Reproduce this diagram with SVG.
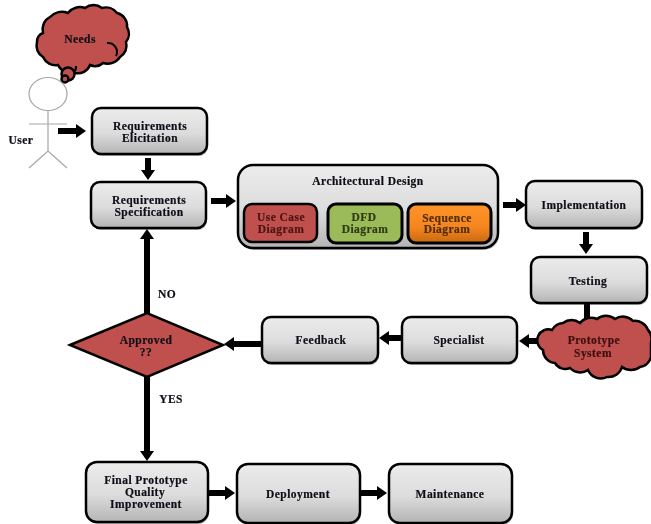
<svg xmlns="http://www.w3.org/2000/svg" width="651" height="524" viewBox="0 0 651 524">
<style>
.box{fill:url(#g);stroke:#000;stroke-width:2.5}
.sh{fill:#000;opacity:.3}
text{font-family:"Liberation Serif","Times New Roman",serif;font-weight:bold;font-size:11.500px;text-anchor:middle;fill:#0e0e18;stroke:#0e0e18;stroke-width:.2;letter-spacing:.45px;filter:url(#soft)}
.red{fill:#c0504d;stroke:#000;stroke-width:2.5}
.c{stroke:#000;stroke-width:6;fill:none;marker-end:url(#a)}
.p{stroke:#000;stroke-width:6;fill:none}
.st{stroke:#a6a6a6;stroke-width:1.2;fill:none}
.in{stroke:#000;stroke-width:2;fill:none}
</style>
<defs>
<linearGradient id="g" x1="0" y1="0" x2="0" y2="1"><stop offset="0" stop-color="#ececec"/><stop offset=".55" stop-color="#dcdcdc"/><stop offset="1" stop-color="#b4b4b4"/></linearGradient>
<linearGradient id="go" x1="0" y1="0" x2="0" y2="1"><stop offset="0" stop-color="#ff9429"/><stop offset=".6" stop-color="#f5861f"/><stop offset="1" stop-color="#c8680f"/></linearGradient>
<filter id="soft" x="-5%" y="-20%" width="110%" height="140%"><feGaussianBlur stdDeviation=".25"/></filter>
<marker id="a" markerUnits="userSpaceOnUse" markerWidth="12" markerHeight="16" refX="1" refY="8" orient="auto"><path d="M1 1L11 8L1 15Z" fill="#000"/></marker>
</defs>
<rect width="651" height="524" fill="#fff"/>
<g id="connectors">
<path class="c" d="M58 131H76"/>
<path class="c" d="M148 158V170"/>
<path class="c" d="M211 201H226"/>
<path class="c" d="M503 205H516"/>
<path class="c" d="M586 232V244"/>
<path class="p" d="M587 303V322"/>
<path class="c" d="M545 341H529"/>
<path class="c" d="M402 338H389"/>
<path class="c" d="M262 344H234"/>
<path class="c" d="M147 313V239"/>
<path class="c" d="M147 377V451"/>
<path class="c" d="M208 493H225"/>
<path class="c" d="M360 493H377"/>
</g>
<g id="needs">
<path class="red" d="M43 33A14 14 0 0 1 50 17A16 16 0 0 1 68 13A15 15 0 0 1 85 8A14 14 0 0 1 102 8A14 14 0 0 1 117 13A13 13 0 0 1 127 27A13 13 0 0 1 126 42A13 13 0 0 1 120 57A15 15 0 0 1 103 63A12 12 0 0 1 90 65A13 13 0 0 1 75 73A15 15 0 0 1 58 65A14 14 0 0 1 43 57A13 13 0 0 1 37 42A9 9 0 0 1 43 33Z"/>
<path class="in" d="M107 43A9 9 0 0 1 116 56M72 73A7 7 0 0 0 76 66"/>
<circle class="red" cx="68" cy="74" r="6.500"/>
<circle class="red" cx="65" cy="79" r="3.500"/>
<text x="80" y="43">Needs</text>
</g>
<g id="user">
<ellipse class="st" cx="48" cy="94" rx="19" ry="16.500"/>
<path class="st" d="M48 111V151M29 124H67M29 168L48 151L67 168"/>
<text x="21" y="144">User</text>
</g>
<g id="req-elicitation">
<rect class="sh" x="93" y="110" width="115" height="46" rx="9"/>
<rect class="box" x="92" y="108" width="115" height="46" rx="9"/>
<text x="150" y="130">Requirements</text><text x="150" y="142">Elicitation</text>
</g>
<g id="req-specification">
<rect class="sh" x="92" y="184" width="115" height="46" rx="9"/>
<rect class="box" x="91" y="182" width="115" height="46" rx="9"/>
<text x="149" y="204">Requirements</text><text x="149" y="216">Specification</text>
</g>
<g id="architectural-design">
<rect class="sh" x="239" y="167" width="260" height="83" rx="15"/>
<rect class="box" x="238" y="165" width="260" height="83" rx="15"/>
<text x="368" y="185">Architectural Design</text>
</g>
<g id="use-case">
<rect x="244" y="204" width="73" height="38" rx="8" fill="#c0504d" stroke="#000" stroke-width="2.500"/>
<text x="281" y="221" style="fill:#4a1514;stroke:#4a1514">Use Case</text><text x="281" y="233" style="fill:#4a1514;stroke:#4a1514">Diagram</text>
</g>
<g id="dfd">
<rect x="328" y="204" width="74" height="39" rx="8" fill="#9bbb59" stroke="#000" stroke-width="3"/>
<text x="364" y="221" style="fill:#2e3a14;stroke:#2e3a14">DFD</text><text x="365" y="233" style="fill:#2e3a14;stroke:#2e3a14">Diagram</text>
</g>
<g id="sequence">
<rect x="408" y="204" width="83" height="39" rx="8" fill="url(#go)" stroke="#000" stroke-width="3"/>
<text x="447" y="222" style="fill:#4f2d08;stroke:#4f2d08">Sequence</text><text x="447" y="233" style="fill:#4f2d08;stroke:#4f2d08">Diagram</text>
</g>
<g id="implementation">
<rect class="sh" x="527" y="183" width="116" height="47" rx="9"/>
<rect class="box" x="526" y="181" width="116" height="47" rx="9"/>
<text x="584" y="209">Implementation</text>
</g>
<g id="testing">
<rect class="sh" x="532" y="259" width="116" height="46" rx="9"/>
<rect class="box" x="531" y="257" width="116" height="46" rx="9"/>
<text x="588" y="285">Testing</text>
</g>
<g id="prototype-system">
<path class="red" d="M552 330A14 14 0 0 1 563 323A14 14 0 0 1 580 323A14 14 0 0 1 597 319A14 14 0 0 1 615 319A14 14 0 0 1 633 321A14 14 0 0 1 648 330A12 12 0 0 1 651 342L651 357A14 14 0 0 1 640 367A15 15 0 0 1 622 367A14 14 0 0 1 607 377A14 14 0 0 1 588 370A14 14 0 0 1 570 368A12 12 0 0 1 555 363A13 13 0 0 1 543 350A11 11 0 0 1 552 330Z"/>
<text x="594" y="344" style="fill:#3c1010;stroke:#3c1010">Prototype</text><text x="593" y="357" style="fill:#3c1010;stroke:#3c1010">System</text>
</g>
<g id="specialist">
<rect class="sh" x="403" y="319" width="115" height="46" rx="9"/>
<rect class="box" x="402" y="317" width="115" height="46" rx="9"/>
<text x="459" y="344">Specialist</text>
</g>
<g id="feedback">
<rect class="sh" x="263" y="319" width="116" height="46" rx="9"/>
<rect class="box" x="262" y="317" width="116" height="46" rx="9"/>
<text x="321" y="344">Feedback</text>
</g>
<g id="approved">
<path class="red" d="M70 345L147 313L223 345L147 377Z"/>
<text x="146" y="344">Approved</text><text x="146" y="356">??</text>
</g>
<text x="167" y="298">NO</text>
<text x="171" y="403">YES</text>
<g id="final-prototype">
<rect class="sh" x="87" y="464" width="122" height="60" rx="11"/>
<rect class="box" x="86" y="462" width="122" height="60" rx="11"/>
<text x="146" y="484">Final Prototype</text><text x="145" y="496">Quality</text><text x="146" y="508">Improvement</text>
</g>
<g id="deployment">
<rect class="sh" x="238" y="466" width="123" height="59" rx="11"/>
<rect class="box" x="237" y="464" width="123" height="59" rx="11"/>
<text x="298" y="498">Deployment</text>
</g>
<g id="maintenance">
<rect class="sh" x="390" y="466" width="123" height="59" rx="11"/>
<rect class="box" x="389" y="464" width="123" height="59" rx="11"/>
<text x="450" y="498">Maintenance</text>
</g>
</svg>
